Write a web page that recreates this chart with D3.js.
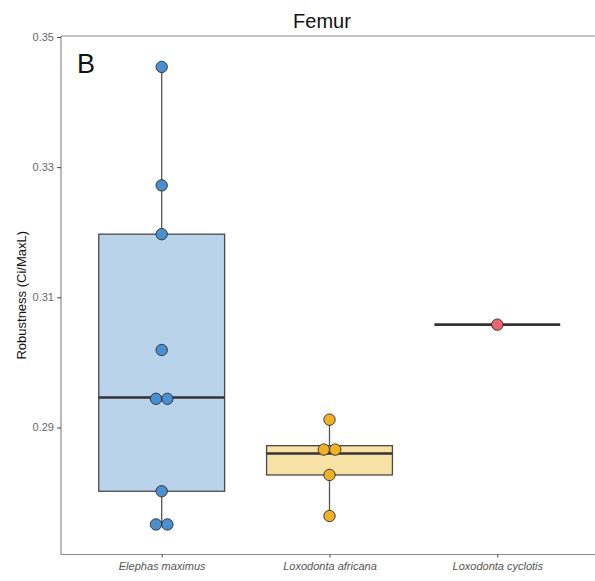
<!DOCTYPE html>
<html>
<head>
<meta charset="utf-8">
<script src="https://cdn.jsdelivr.net/npm/d3@7"></script>
<style>
  body { margin: 0; background: #fff; }
  text { font-family: "Liberation Sans", Arial, sans-serif; }
</style>
</head>
<body>
<div class="chart"></div>
<script>
// data
var species = ['Elephas maximus', 'Loxodonta africana', 'Loxodonta cyclotis'];
var elephasValues = [0.3454, 0.3272, 0.3197, 0.3019, 0.2946, 0.2942, 0.2802, 0.2752, 0.2750];
var africanaValues = [0.2912, 0.2872, 0.2860, 0.2827, 0.2764];
var cyclotisValues = [0.3058];
var yTicks = [0.29, 0.31, 0.33, 0.35];
var boxFills = ['#b9d3eb', '#f7e1a5', '#f4b4b6'];
var dotFills = ['#4a8fd0', '#efb223', '#ef636b'];

var width = 595, height = 581;
var plotLeft = 61, plotRight = 598, plotTop = 36, plotBottom = 554.5;

var groups = [elephasValues, africanaValues, cyclotisValues];

var svg = d3.select('.chart')
  .append('svg')
  .attr('width', width)
  .attr('height', height);

var xScale = d3.scalePoint()
  .domain(species)
  .range([plotLeft, plotRight])
  .padding(0.6);

var yScale = d3.scaleLinear()
  .domain([0.27048, 0.35015])
  .range([plotBottom, plotTop]);

var step = xScale.step();
var boxW = step * 0.75;

// top border
svg.append('line')
  .attr('x1', plotLeft).attr('x2', width)
  .attr('y1', plotTop).attr('y2', plotTop)
  .attr('stroke', '#8a8a8a').attr('stroke-width', 1.2);

// boxes
var binwidth = (d3.max(elephasValues) - d3.min(elephasValues)) / 30;
groups.forEach(function(vals, i) {
  var s = vals.slice().sort(d3.ascending);
  var q1 = d3.quantile(s, 0.25), med = d3.quantile(s, 0.5), q3 = d3.quantile(s, 0.75);
  var iqr = q3 - q1;
  var lo = d3.min(s.filter(v => v >= q1 - 1.5 * iqr));
  var hi = d3.max(s.filter(v => v <= q3 + 1.5 * iqr));
  var cx = xScale(species[i]);
  var g = svg.append('g');

  g.append('line')
    .attr('x1', cx).attr('x2', cx)
    .attr('y1', yScale(hi)).attr('y2', yScale(lo))
    .attr('stroke', '#555').attr('stroke-width', 1.3);

  g.append('rect')
    .attr('x', cx - boxW / 2)
    .attr('width', boxW)
    .attr('y', yScale(q3))
    .attr('height', yScale(q1) - yScale(q3))
    .attr('fill', boxFills[i])
    .attr('stroke', '#4a4a4a')
    .attr('stroke-width', 1.3);

  g.append('line')
    .attr('x1', cx - boxW / 2).attr('x2', cx + boxW / 2)
    .attr('y1', yScale(med)).attr('y2', yScale(med))
    .attr('stroke', '#333').attr('stroke-width', 2.6);

  // dotplot binning (dot density), stacked centred
  var bins = [];
  var k = 0;
  while (k < s.length) {
    var start = s[k], members = [];
    while (k < s.length && s[k] - start <= binwidth) { members.push(s[k]); k++; }
    bins.push({ y: (members[0] + members[members.length - 1]) / 2, n: members.length });
  }
  var r = 5.7;
  bins.forEach(function(b) {
    d3.range(b.n).forEach(function(j) {
      g.append('circle')
        .attr('cx', cx + (j - (b.n - 1) / 2) * 2 * r)
        .attr('cy', yScale(b.y))
        .attr('r', r)
        .attr('fill', dotFills[i])
        .attr('stroke', '#2b2b2b')
        .attr('stroke-width', 0.9);
    });
  });
});

// axes
var yAxis = d3.axisLeft(yScale).tickValues(yTicks).tickFormat(d3.format('.2f')).tickSize(4).tickPadding(3);
var xAxis = d3.axisBottom(xScale).tickSize(3).tickPadding(5);

var gy = svg.append('g')
  .attr('transform', 'translate(' + plotLeft + ',0)')
  .call(yAxis);
gy.select('.domain').attr('d', 'M0,' + plotTop + 'V' + plotBottom).attr('stroke', '#8a8a8a').attr('stroke-width', 1.2);
gy.selectAll('.tick line').attr('stroke', '#444');
gy.selectAll('.tick text').attr('fill', '#666').style('font-size', '11px');

var gx = svg.append('g')
  .attr('transform', 'translate(0,' + plotBottom + ')')
  .call(xAxis);
gx.select('.domain').attr('d', 'M' + plotLeft + ',0H' + width).attr('stroke', '#8a8a8a').attr('stroke-width', 1.2);
gx.selectAll('.tick line').attr('stroke', '#444');
gx.selectAll('.tick text').attr('fill', '#555').style('font-size', '11px').style('font-style', 'italic');

// labels
svg.append('text')
  .attr('x', 322).attr('y', 28)
  .attr('text-anchor', 'middle')
  .style('font-size', '20px')
  .attr('fill', '#111')
  .text('Femur');

svg.append('text')
  .attr('x', 77).attr('y', 73)
  .style('font-size', '27px')
  .attr('fill', '#111')
  .text('B');

svg.append('text')
  .attr('transform', 'translate(26,' + ((plotTop + plotBottom) / 2) + ') rotate(-90)')
  .attr('text-anchor', 'middle')
  .style('font-size', '13px')
  .attr('fill', '#111')
  .text('Robustness (Ci/MaxL)');
</script>
</body>
</html>
